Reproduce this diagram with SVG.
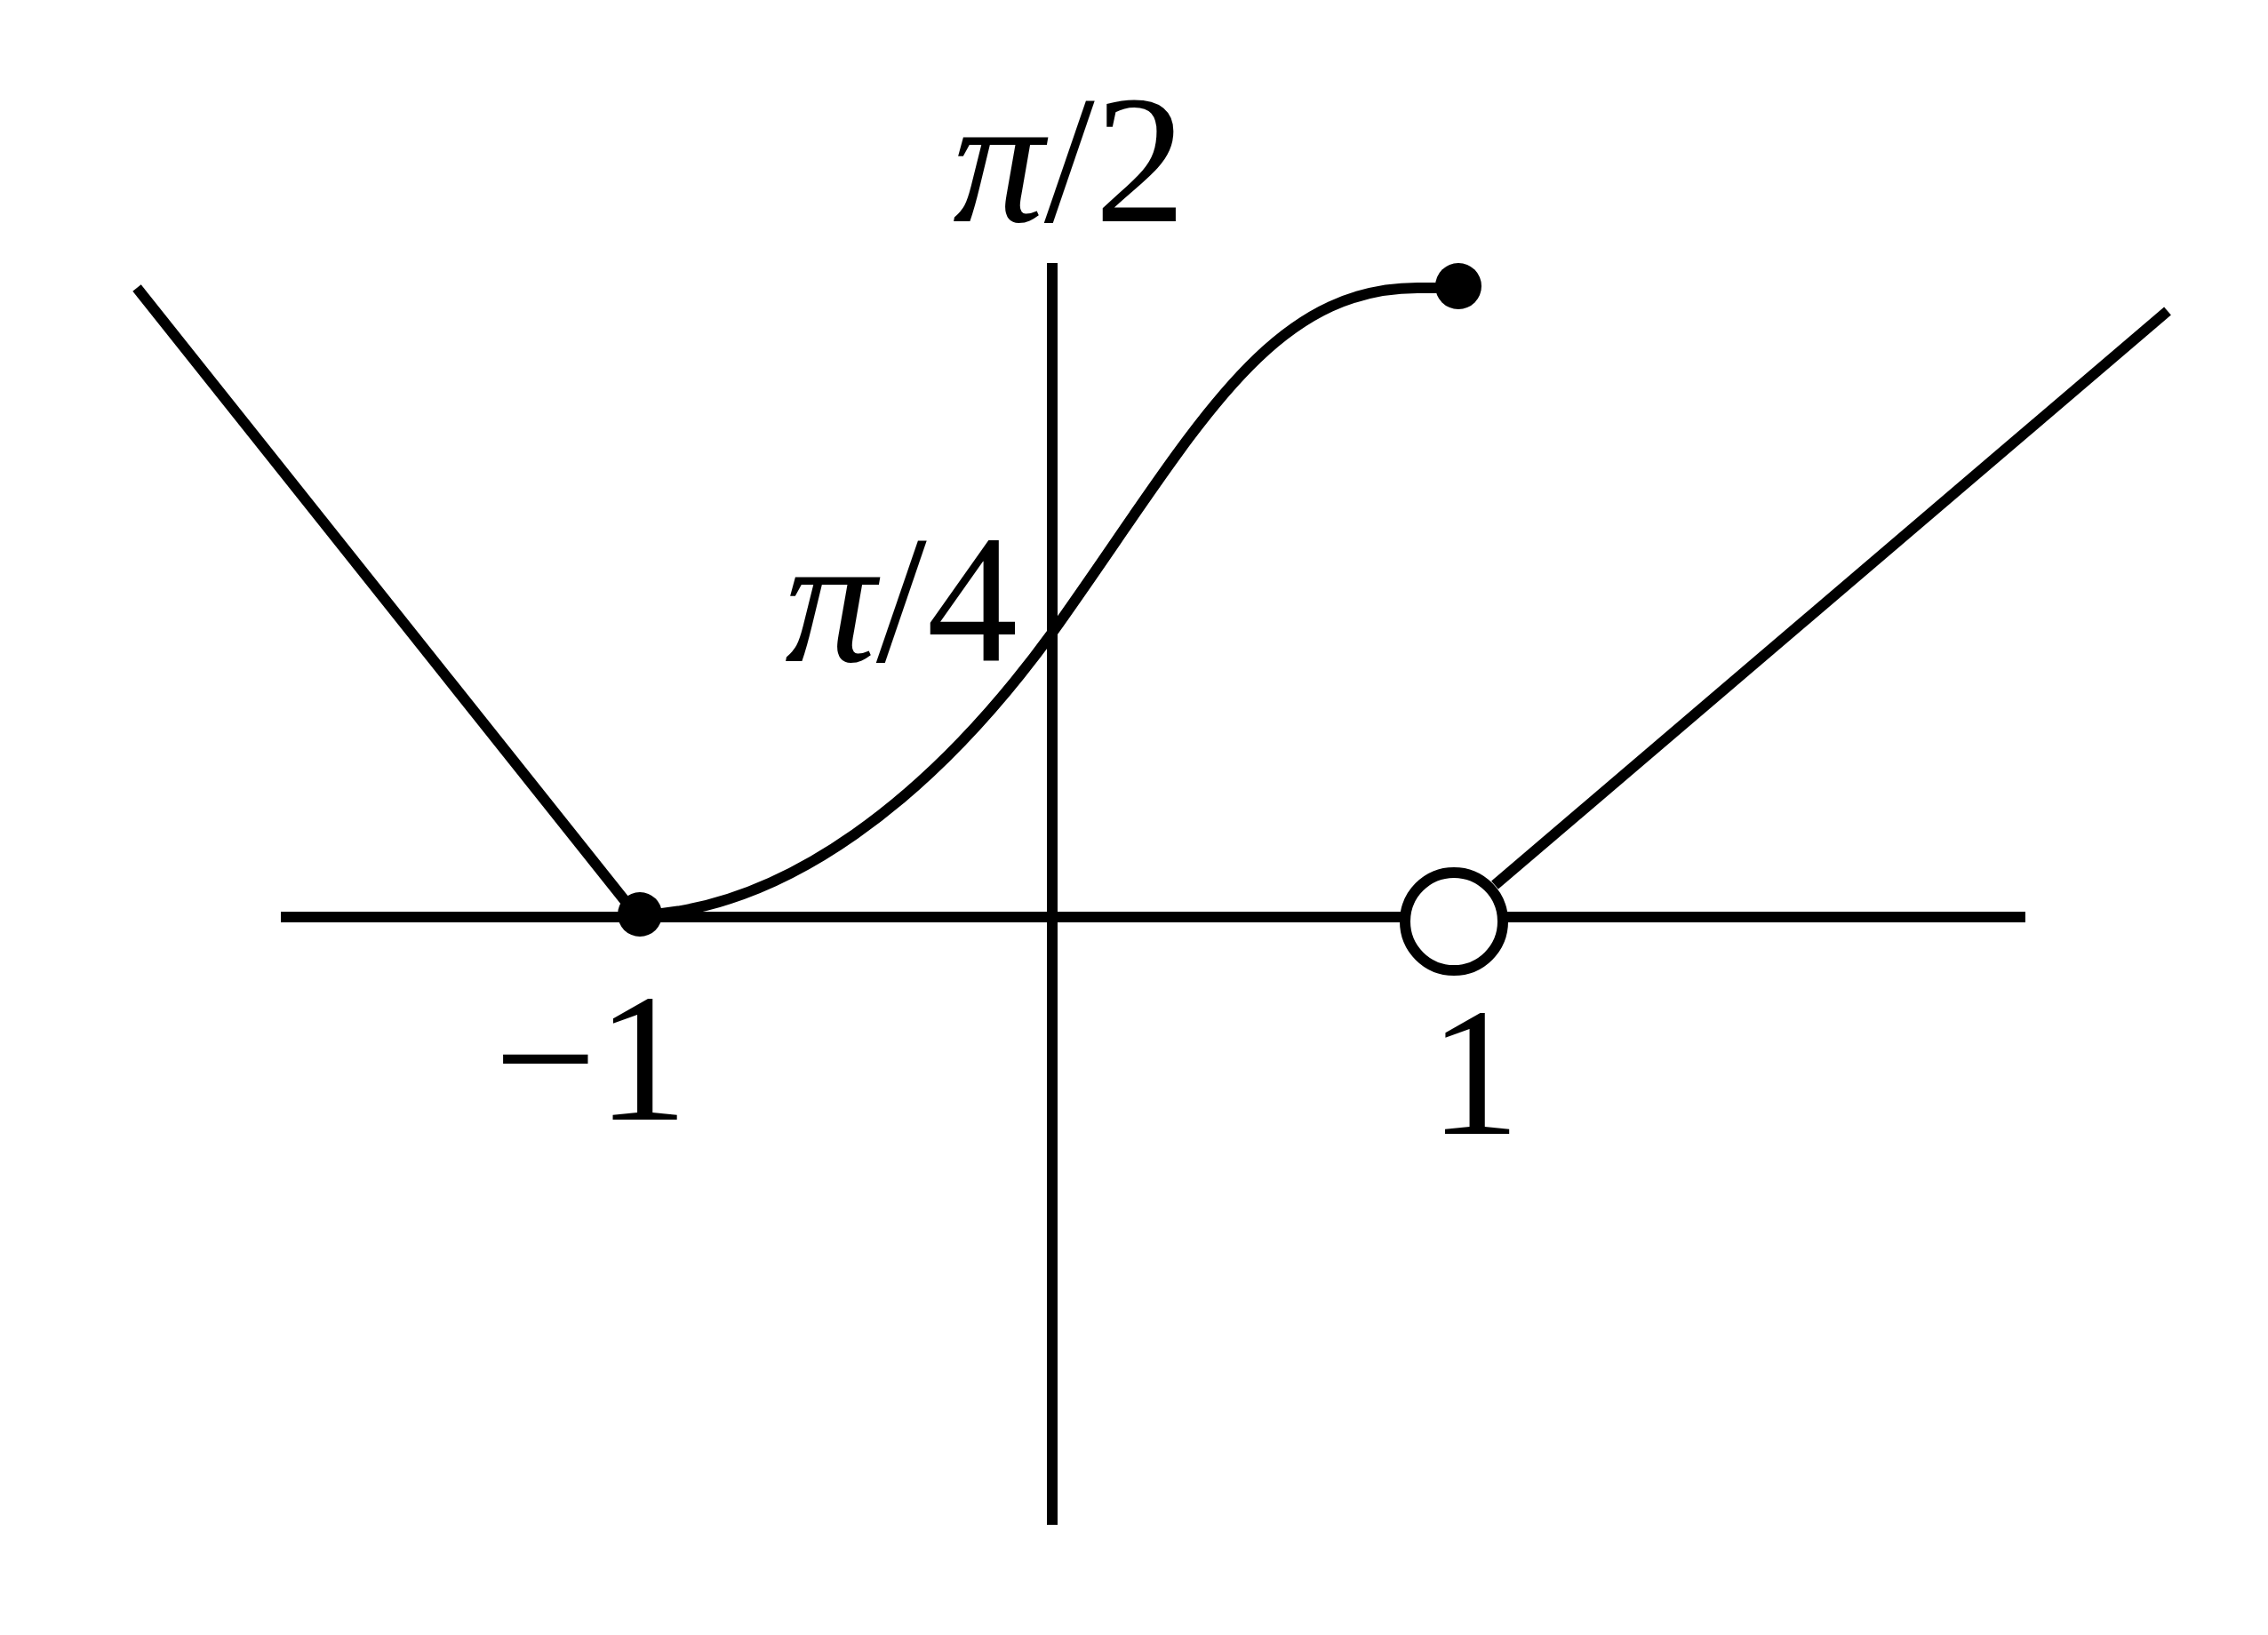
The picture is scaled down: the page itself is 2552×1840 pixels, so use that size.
<svg xmlns="http://www.w3.org/2000/svg" width="2552" height="1840" viewBox="0 0 2552 1840">
<style>
.l{stroke:#000;stroke-width:12;fill:none}
.t{font-family:"Liberation Serif",serif;font-size:205px;fill:#000}
.i{font-style:italic}
</style>
<rect width="2552" height="1840" fill="#fff"/>
<g id="connectors">
<line class="l" x1="316" y1="1032" x2="2279" y2="1032"/>
<line class="l" x1="1184" y1="296" x2="1184" y2="1716"/>
<line class="l" x1="154" y1="324" x2="717" y2="1031"/>
<path class="l" d="M720,1030 C883,1023 1047,900 1184,712 C1342,491 1423,324 1595,324 L1641,324"/>
<line class="l" x1="1682" y1="996" x2="2439" y2="350"/>
</g>
<g id="dot-left"><circle cx="720" cy="1029" r="25" fill="#000"/></g>
<g id="dot-top"><circle cx="1641" cy="322" r="26" fill="#000"/></g>
<g id="open-circle"><circle cx="1636" cy="1037" r="55" fill="#fff" stroke="#000" stroke-width="12"/></g>
<g id="labels">
<text class="t" x="1072" y="249"><tspan class="i">π</tspan>/2</text>
<text class="t" x="883" y="744"><tspan class="i">π</tspan>/4</text>
<text class="t" x="556" y="1260">−1</text>
<text class="t" x="1608" y="1276">1</text>
</g>
</svg>
